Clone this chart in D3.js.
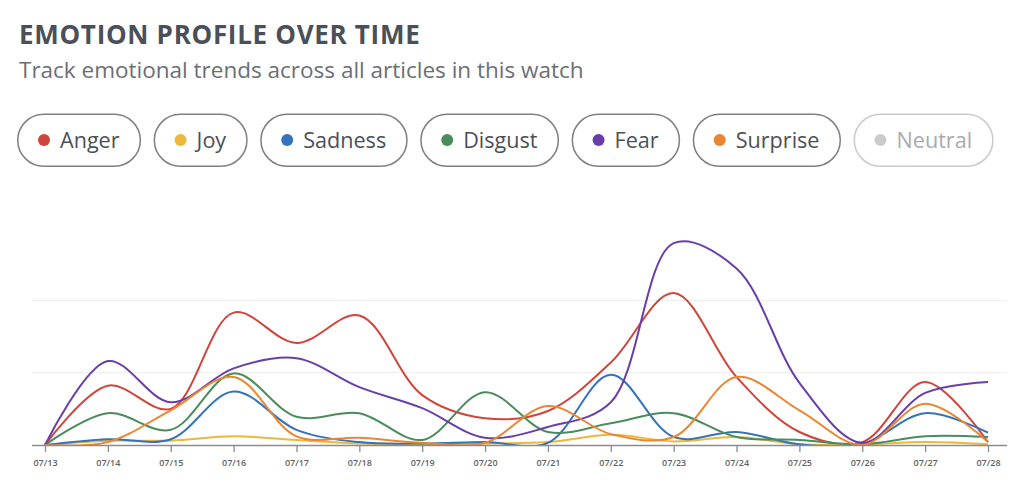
<!DOCTYPE html>
<html>
<head>
<meta charset="utf-8">
<script src="https://cdn.jsdelivr.net/npm/d3@7"></script>
<style>
  html, body { margin: 0; padding: 0; background: #fff; }
  svg { display: block; font-family: "Open Sans", "Noto Sans", sans-serif; }
</style>
</head>
<body>
<svg id="chart" width="1024" height="495"></svg>
<script>
const dates = ['07/13', '07/14', '07/15', '07/16', '07/17', '07/18', '07/19', '07/20',
    '07/21', '07/22', '07/23', '07/24', '07/25', '07/26', '07/27', '07/28'];

const anger = [0, 8.2, 5.0, 18.3, 14.1, 17.9, 6.9, 3.7, 4.7, 11.4, 21.0, 9.4, 1.8, 0.4, 8.7, 0.4];
const joy = [0, 0.6, 0.6, 1.2, 0.7, 0.2, 0.1, 0.2, 0.4, 1.4, 0.5, 1.1, 0.1, 0.1, 0.4, 0.1];
const sadness = [0, 0.8, 0.8, 7.4, 2.1, 0.4, 0.2, 0.4, 0.3, 9.7, 1.1, 1.8, 0.1, 0.1, 4.4, 1.7];
const disgust = [0, 4.4, 2.1, 9.9, 3.9, 4.4, 0.7, 7.3, 1.8, 3.0, 4.4, 1.1, 0.7, 0.1, 1.2, 1.1];
const fear = [0, 11.6, 5.9, 10.6, 12.0, 8.0, 5.1, 1.0, 2.5, 5.9, 27.9, 24.4, 8.6, 0.3, 7.2, 8.7];
const surprise = [0, 0.4, 4.8, 9.4, 1.2, 1.0, 0.3, 0.3, 5.4, 1.5, 1.1, 9.4, 4.8, 0, 5.7, 0.4];

const emotions = ['Anger', 'Joy', 'Sadness', 'Disgust', 'Fear', 'Surprise', 'Neutral'];
const colors = ['#d0453b', '#ebb83c', '#3472b9', '#4a8c5c', '#6a3ea8', '#ea8632', '#cccccc'];
const hidden = ['Neutral'];

const seriesValues = { Anger: anger, Joy: joy, Sadness: sadness, Disgust: disgust, Fear: fear, Surprise: surprise };
const gridValues = [10, 20];

const svg = d3.select('#chart');

// header
svg.append('text')
    .attr('x', 19)
    .attr('y', 44)
    .attr('fill', '#4b5058')
    .attr('font-size', 26)
    .attr('font-weight', 700)
    .attr('letter-spacing', 0.7)
    .text('EMOTION PROFILE OVER TIME');

svg.append('text')
    .attr('x', 19)
    .attr('y', 78)
    .attr('fill', '#6b6f75')
    .attr('font-size', 22.5)
    .text('Track emotional trends across all articles in this watch');

// legend pills
const legend = svg.append('g').attr('transform', 'translate(17, 113.5)');
let pillX = 0;
emotions.forEach((name, i) => {
    const off = hidden.includes(name);
    const pill = legend.append('g').attr('transform', `translate(${pillX}, 0)`);
    const label = pill.append('text')
        .attr('x', 43)
        .attr('y', 26.5)
        .attr('dy', '0.35em')
        .attr('font-size', 21.6)
        .attr('fill', off ? '#a9abae' : '#4b5058')
        .text(name);
    const w = 43 + label.node().getComputedTextLength() + 20;
    pill.insert('rect', 'text')
        .attr('x', 0.75)
        .attr('y', 0.75)
        .attr('width', w)
        .attr('height', 52)
        .attr('rx', 26)
        .attr('fill', '#fff')
        .attr('stroke', off ? '#c9cacc' : '#7d8085')
        .attr('stroke-width', 1.5);
    pill.append('circle')
        .attr('cx', 27)
        .attr('cy', 26.5)
        .attr('r', 6)
        .attr('fill', colors[i]);
    pillX += w + 14;
});

// chart
const plot = { left: 32, right: 1007, top: 228, bottom: 445 };

const x = d3.scalePoint()
    .domain(dates)
    .range([45, 988]);

const y = d3.scaleLinear()
    .domain([0, 30])
    .range([plot.bottom, plot.top]);

svg.append('defs').append('clipPath')
    .attr('id', 'plot-clip')
    .append('rect')
    .attr('x', plot.left)
    .attr('y', plot.top - 20)
    .attr('width', plot.right - plot.left)
    .attr('height', plot.bottom - plot.top + 20);

svg.append('g')
    .classed('grid', true)
    .selectAll('line')
    .data(gridValues)
    .enter()
    .append('line')
    .attr('x1', plot.left)
    .attr('x2', plot.right)
    .attr('y1', d => y(d))
    .attr('y2', d => y(d))
    .attr('stroke', '#ececec')
    .attr('stroke-width', 1);

const line = d3.line()
    .x((d, i) => x(dates[i]))
    .y(d => y(d))
    .curve(d3.curveCatmullRom.alpha(0.5));

const visible = emotions.filter(e => !hidden.includes(e));

svg.append('g')
    .classed('series', true)
    .attr('clip-path', 'url(#plot-clip)')
    .selectAll('path')
    .data(visible)
    .enter()
    .append('path')
    .attr('d', d => line(seriesValues[d]))
    .attr('fill', 'none')
    .attr('stroke', d => colors[emotions.indexOf(d)])
    .attr('stroke-width', 2);

// x axis
const xAxis = svg.append('g')
    .attr('transform', `translate(0, ${plot.bottom})`)
    .call(d3.axisBottom(x).tickSize(7).tickPadding(8));

xAxis.select('.domain')
    .attr('d', `M${plot.left},0.5H${plot.right}`)
    .attr('stroke', '#8a8c90')
    .attr('stroke-width', 1.5);

xAxis.selectAll('.tick line')
    .attr('stroke', '#8a8c90')
    .attr('stroke-width', 1.3);

xAxis.selectAll('.tick text')
    .attr('fill', '#5f6266')
    .attr('font-size', 9)
    .attr('font-weight', 600)
    .attr('font-family', '"Open Sans", sans-serif');
</script>
</body>
</html>
